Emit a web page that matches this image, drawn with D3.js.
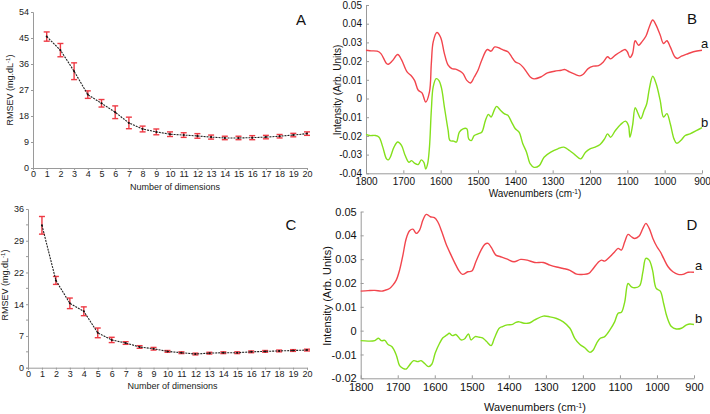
<!DOCTYPE html>
<html><head><meta charset="utf-8">
<script src="https://cdn.jsdelivr.net/npm/d3@7"></script>
<style>body{margin:0;background:#fff}svg{display:block}text{font-family:"Liberation Sans",Arial,sans-serif}</style>
</head><body>
<svg id="c" width="710" height="414"></svg>
<script>
// ---------- Data ----------
const dims = d3.range(1, 21);
const rmsevA = [45.5,40.8,33.5,25.4,22.4,19.3,15.6,13.5,12.5,11.7,11.4,11.1,10.7,10.4,10.4,10.5,10.7,11.0,11.4,11.9];
const errA   = [1.6,2.3,2.9,1.3,1.3,2.2,2.0,1.0,1.0,0.8,0.8,0.8,0.7,0.6,0.6,0.7,0.6,0.6,0.6,0.6];
const rmsevC = [32.3,19.8,14.6,12.8,7.9,6.3,5.6,4.7,4.3,3.7,3.4,3.1,3.3,3.4,3.4,3.6,3.7,3.8,3.9,4.0];
const errC   = [2.0,0.9,1.2,1.0,1.1,0.6,0.3,0.3,0.3,0.2,0.2,0.2,0.2,0.2,0.2,0.2,0.2,0.2,0.2,0.2];
const ticksA = [0,9,18,27,36,45,54];
const ticksC = [0,7.2,14.4,21.6,28.8,36];
const ticksCLabels = ["0","7","14","22","29","36"];
const ticksDims = d3.range(0, 21);

const wnTicks = [1800,1700,1600,1500,1400,1300,1200,1100,1000,900];
const ticksB = [0.05,0.04,0.03,0.02,0.01,0,-0.01,-0.02,-0.03,-0.04];
const ticksD = [0.05,0.04,0.03,0.02,0.01,0,-0.01,-0.02];

// Panel B spectra [wavenumber, intensity]
const specBa = [[1800,0.0258],[1790,0.0255],[1770,0.0253],[1760,0.024],[1745,0.0187],[1740,0.0183],[1730,0.020],[1715,0.0235],[1705,0.0208],[1690,0.0142],[1680,0.0124],[1670,0.0097],[1660,0.0044],[1650,0.003],[1640,-0.0019],[1630,0.0035],[1625,0.0187],[1620,0.0303],[1610,0.0353],[1600,0.0326],[1590,0.024],[1580,0.0178],[1570,0.016],[1560,0.0157],[1550,0.0148],[1540,0.0133],[1530,0.0097],[1520,0.0083],[1510,0.0115],[1500,0.0151],[1490,0.0205],[1475,0.0262],[1465,0.0253],[1455,0.0276],[1440,0.0267],[1430,0.0258],[1420,0.025],[1410,0.0223],[1400,0.0196],[1390,0.0187],[1380,0.0169],[1370,0.0142],[1360,0.0115],[1350,0.0105],[1332,0.0115],[1314,0.0137],[1295,0.0146],[1277,0.0151],[1268,0.0155],[1255,0.0142],[1241,0.013],[1227,0.0121],[1218,0.013],[1205,0.016],[1191,0.0173],[1177,0.0176],[1164,0.0196],[1153,0.0223],[1145,0.0212],[1132,0.0232],[1118,0.025],[1106,0.0262],[1100,0.025],[1093,0.0219],[1086,0.024],[1079,0.0309],[1070,0.0285],[1061,0.0303],[1050,0.0334],[1041,0.0384],[1032,0.042],[1023,0.0392],[1012,0.0339],[1003,0.0294],[994,0.0309],[985,0.0276],[973,0.0223],[966,0.0214],[955,0.0226],[941,0.0237],[923,0.025],[900,0.0258]];
const specBb = [[1800,-0.0192],[1790,-0.0198],[1775,-0.0198],[1765,-0.0207],[1755,-0.026],[1745,-0.0323],[1740,-0.0328],[1735,-0.0314],[1725,-0.026],[1715,-0.0233],[1705,-0.0251],[1695,-0.0305],[1685,-0.0341],[1678,-0.0332],[1670,-0.0346],[1660,-0.0353],[1652,-0.0328],[1645,-0.0341],[1640,-0.0377],[1635,-0.035],[1630,-0.026],[1625,-0.0063],[1620,0.0062],[1612,0.0106],[1605,0.0097],[1598,0.0058],[1590,-0.0046],[1580,-0.0171],[1575,-0.0225],[1565,-0.0228],[1558,-0.0233],[1550,-0.018],[1540,-0.0162],[1530,-0.0162],[1525,-0.0216],[1518,-0.0225],[1510,-0.0198],[1500,-0.0189],[1490,-0.018],[1480,-0.0117],[1472,-0.0085],[1465,-0.0099],[1455,-0.0055],[1450,-0.0042],[1440,-0.0063],[1430,-0.0081],[1420,-0.009],[1410,-0.0126],[1400,-0.0162],[1390,-0.018],[1380,-0.0242],[1370,-0.0287],[1360,-0.035],[1350,-0.0368],[1336,-0.0359],[1323,-0.0314],[1305,-0.0287],[1286,-0.0269],[1270,-0.026],[1255,-0.0278],[1241,-0.03],[1225,-0.0323],[1212,-0.0287],[1200,-0.0269],[1186,-0.026],[1173,-0.0246],[1161,-0.0216],[1153,-0.0189],[1145,-0.0207],[1132,-0.0171],[1118,-0.0139],[1105,-0.0121],[1097,-0.0144],[1093,-0.0207],[1086,-0.0144],[1079,-0.0049],[1073,-0.0072],[1064,-0.0108],[1055,-0.0063],[1048,-0.0028],[1041,0.0053],[1032,0.0119],[1023,0.008],[1012,-0.001],[1003,-0.0099],[994,-0.0081],[985,-0.0135],[975,-0.0216],[968,-0.0239],[957,-0.0225],[945,-0.0198],[932,-0.0189],[914,-0.0171],[900,-0.0156]];

// Panel D spectra
const specDa = [[1800,0.0166],[1780,0.0168],[1762,0.0169],[1744,0.0166],[1735,0.0169],[1722,0.0177],[1713,0.0191],[1704,0.0212],[1695,0.0254],[1686,0.0317],[1677,0.0387],[1668,0.0419],[1659,0.0426],[1650,0.0408],[1641,0.0422],[1632,0.0464],[1623,0.0488],[1612,0.0478],[1601,0.0474],[1592,0.0457],[1581,0.0415],[1570,0.0366],[1556,0.0317],[1543,0.0275],[1534,0.025],[1525,0.0236],[1511,0.0247],[1500,0.025],[1489,0.0289],[1475,0.0338],[1465,0.0362],[1456,0.0366],[1447,0.0348],[1435,0.0317],[1422,0.031],[1404,0.030],[1386,0.0289],[1368,0.0299],[1350,0.0296],[1330,0.0286],[1307,0.0286],[1289,0.0275],[1271,0.0267],[1253,0.0261],[1235,0.0253],[1217,0.0237],[1200,0.0236],[1184,0.024],[1172,0.0261],[1159,0.0286],[1150,0.0296],[1141,0.0292],[1127,0.031],[1114,0.0331],[1105,0.0345],[1096,0.0338],[1087,0.0373],[1078,0.0404],[1069,0.0394],[1060,0.0387],[1048,0.0397],[1038,0.0429],[1030,0.045],[1021,0.0429],[1011,0.0387],[1000,0.0352],[991,0.0331],[982,0.0303],[970,0.0268],[957,0.0247],[943,0.0236],[930,0.0236],[916,0.0245],[900,0.0245]];
const specDb = [[1800,-0.0042],[1780,-0.0044],[1762,-0.0042],[1752,-0.0032],[1744,-0.0042],[1735,-0.0041],[1726,-0.0058],[1716,-0.0067],[1704,-0.0102],[1695,-0.0147],[1686,-0.0158],[1677,-0.0161],[1668,-0.0144],[1657,-0.0126],[1646,-0.013],[1637,-0.0126],[1628,-0.0137],[1617,-0.0151],[1608,-0.0141],[1599,-0.0095],[1587,-0.0053],[1578,-0.003],[1567,-0.0018],[1561,-0.0011],[1552,-0.0021],[1543,-0.0016],[1529,-0.0039],[1520,-0.0035],[1509,-0.0014],[1502,-0.0039],[1491,-0.0025],[1480,-0.0028],[1471,-0.003],[1460,-0.0046],[1448,-0.0063],[1439,-0.0032],[1426,0.001],[1417,0.0017],[1404,0.0024],[1390,0.0026],[1381,0.0035],[1372,0.0037],[1359,0.0031],[1345,0.0032],[1330,0.0045],[1307,0.0061],[1289,0.0058],[1271,0.0051],[1253,0.0037],[1235,0.001],[1222,-0.0032],[1208,-0.0058],[1195,-0.0072],[1181,-0.0091],[1172,-0.0081],[1163,-0.0053],[1153,-0.0032],[1141,-0.0025],[1127,0.0003],[1114,0.0038],[1105,0.0073],[1096,0.0077],[1087,0.0121],[1078,0.0198],[1069,0.0184],[1060,0.018],[1047,0.0188],[1038,0.0247],[1030,0.0303],[1021,0.0296],[1012,0.0254],[1002,0.0177],[991,0.0166],[982,0.0114],[973,0.0058],[961,0.0017],[948,0.0007],[934,0.001],[920,0.0024],[911,0.0028],[900,0.0026]];

// ---------- Drawing ----------
const svg = d3.select("#c");
const AXC = "#9a9a9a", RED = "#f2454d", GREEN = "#84e01c", ERR = "#ee3a44";

function rmsevPanel(cfg) {
  const x = d3.scaleLinear().domain([0, 20]).range(cfg.xr);
  const y = d3.scaleLinear().domain([0, cfg.ymax]).range(cfg.yr);
  const g = svg.append("g");
  const ax = g.append("g").attr("transform", `translate(0,${cfg.yr[0]})`)
    .call(d3.axisBottom(x).tickValues(ticksDims).tickFormat(d3.format("d")).tickSize(2).tickPadding(1));
  const ay = g.append("g").attr("transform", `translate(${cfg.xr[0]},0)`)
    .call(d3.axisLeft(y).tickValues(cfg.ticks).tickFormat((d,i)=>cfg.labels[i]).tickSize(2).tickPadding(2));
  [ax, ay].forEach(a => {
    a.select(".domain").attr("stroke", AXC);
    a.selectAll(".tick line").attr("stroke", AXC);
    a.selectAll("text").attr("fill", "#222").style("font-size", "9px");
  });
  if (cfg.minor) {
    g.selectAll(".minor").data(cfg.minor).join("line")
      .attr("x1", cfg.xr[0]).attr("x2", cfg.xr[0] - 2)
      .attr("y1", d => y(d)).attr("y2", d => y(d)).attr("stroke", AXC);
  }
  const eb = g.append("g").attr("stroke", ERR).attr("stroke-width", 1.4);
  dims.forEach((d, i) => {
    const v = cfg.vals[i], e = cfg.errs[i], cx = x(d);
    eb.append("line").attr("x1", cx).attr("x2", cx).attr("y1", y(v - e)).attr("y2", y(v + e));
    eb.append("line").attr("x1", cx - 3).attr("x2", cx + 3).attr("y1", y(v - e)).attr("y2", y(v - e));
    eb.append("line").attr("x1", cx - 3).attr("x2", cx + 3).attr("y1", y(v + e)).attr("y2", y(v + e));
  });
  g.append("path").datum(dims)
    .attr("fill", "none").attr("stroke", "#222").attr("stroke-width", 1.1).attr("stroke-dasharray", "2,1")
    .attr("d", d3.line().x(d => x(d)).y((d, i) => y(cfg.vals[i])));
  g.selectAll(".pt").data(dims).join("circle")
    .attr("cx", d => x(d)).attr("cy", (d, i) => y(cfg.vals[i])).attr("r", 1).attr("fill", "#111");
  g.append("text").attr("x", (cfg.xr[0] + cfg.xr[1]) / 2 + 5).attr("y", cfg.xtY)
    .attr("text-anchor", "middle").style("font-size", "9px").attr("fill", "#222").text("Number of dimensions");
  const yt = g.append("text").attr("transform", `translate(${cfg.ytX},${cfg.ytY}) rotate(-90)`)
    .attr("text-anchor", "middle").style("font-size", "9px").attr("fill", "#222");
  yt.append("tspan").text("RMSEV (mg.dL");
  yt.append("tspan").attr("dy", -3).style("font-size", "6px").text("-1");
  yt.append("tspan").attr("dy", 3).text(")");
  g.append("text").attr("x", cfg.letter[0]).attr("y", cfg.letter[1]).attr("text-anchor", "middle")
    .style("font-size", "15px").attr("fill", "#111").text(cfg.letterText);
}

rmsevPanel({xr: [33, 307], yr: [168, 12], ymax: 54, ticks: ticksA, labels: ticksA.map(String),
  vals: rmsevA, errs: errA, xtY: 190, ytX: 13, ytY: 90, letter: [301, 25], letterText: "A"});
rmsevPanel({xr: [28, 307], yr: [367.7, 209], ymax: 36, ticks: ticksC, labels: ticksCLabels,
  minor: ticksC.slice(0, -1).map(t => t + 3.6),
  vals: rmsevC, errs: errC, xtY: 389, ytX: 8, ytY: 285, letter: [291, 230], letterText: "C"});

function specPanel(cfg) {
  const x = d3.scaleLinear().domain([1800, 900]).range(cfg.xr);
  const y = d3.scaleLinear().domain([cfg.ticks[cfg.ticks.length - 1], cfg.ticks[0]]).range(cfg.yr);
  const g = svg.append("g");
  const fmt = v => (Math.abs(v) < 1e-9 ? "0" : v.toFixed(2));
  const ax = g.append("g").attr("transform", `translate(0,${cfg.yr[0]})`)
    .call(d3.axisBottom(x).tickValues(wnTicks).tickFormat(d3.format("d")).tickSizeInner(-3).tickSizeOuter(0).tickPadding(5));
  const ay = g.append("g").attr("transform", `translate(${cfg.xr[0]},0)`)
    .call(d3.axisLeft(y).tickValues(cfg.ticks).tickFormat(fmt).tickSizeInner(-3).tickSizeOuter(0).tickPadding(4));
  [ax, ay].forEach(a => {
    a.select(".domain").attr("stroke", AXC);
    a.selectAll(".tick line").attr("stroke", AXC);
    a.selectAll("text").attr("fill", "#111").style("font-size", cfg.fs + "px");
  });
  const line = d3.line().x(d => x(d[0])).y(d => y(d[1])).curve(d3.curveCatmullRom.alpha(0.5));
  g.append("path").datum(cfg.a).attr("fill", "none").attr("stroke", RED).attr("stroke-width", 1.4).attr("d", line);
  g.append("path").datum(cfg.b).attr("fill", "none").attr("stroke", GREEN).attr("stroke-width", 1.4).attr("d", line);
  const xt = g.append("text").attr("x", 535).attr("y", cfg.xtY).attr("text-anchor", "middle")
    .style("font-size", cfg.fs + "px").attr("fill", "#111");
  xt.append("tspan").text("Wavenumbers (cm");
  xt.append("tspan").attr("dy", -3.5).style("font-size", (cfg.fs * 0.65) + "px").text("-1");
  xt.append("tspan").attr("dy", 3.5).text(")");
  g.append("text").attr("transform", `translate(${cfg.ytX},${cfg.ytY}) rotate(-90)`)
    .attr("text-anchor", "middle").style("font-size", cfg.fs + "px").attr("fill", "#111").text("Intensity (Arb. Units)");
  g.append("text").attr("x", cfg.letter[0]).attr("y", cfg.letter[1]).attr("text-anchor", "middle")
    .style("font-size", "15px").attr("fill", "#111").text(cfg.letterText);
  g.append("text").attr("x", cfg.la[0]).attr("y", cfg.la[1]).style("font-size", "13px").attr("fill", "#111").text("a");
  g.append("text").attr("x", cfg.lb[0]).attr("y", cfg.lb[1]).style("font-size", "13px").attr("fill", "#111").text("b");
}

specPanel({xr: [366, 702], yr: [173.3, 5], ticks: ticksB, a: specBa, b: specBb, fs: 10,
  xtY: 197, ytX: 341, ytY: 90, letter: [692, 24], letterText: "B", la: [701, 48], lb: [701, 127]});
specPanel({xr: [360.7, 694], yr: [378.3, 211.5], ticks: ticksD, a: specDa, b: specDb, fs: 11,
  xtY: 411, ytX: 331, ytY: 296, letter: [692, 230], letterText: "D", la: [695, 270], lb: [695, 323]});
</script>
</body></html>
